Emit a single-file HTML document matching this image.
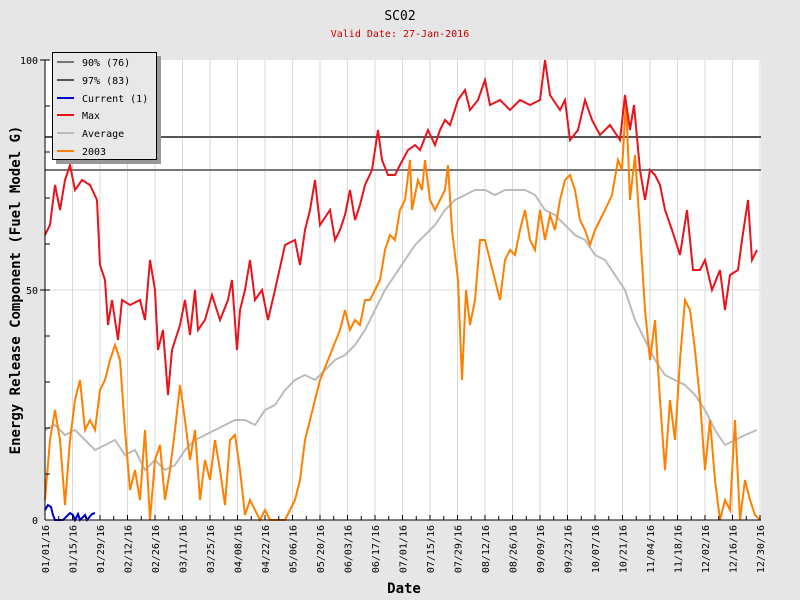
<!DOCTYPE html>
<html><head><meta charset="utf-8"><style>body{margin:0;background:#e6e6e6}svg{display:block}text{font-family:"DejaVu Sans Mono","Liberation Mono",monospace}</style></head><body>
<svg width="800" height="600" viewBox="0 0 800 600" xmlns="http://www.w3.org/2000/svg">
<rect width="800" height="600" fill="#e6e6e6"/>
<text x="400" y="20" font-size="13" text-anchor="middle">SC02</text>
<text x="400" y="37" font-size="10" fill="#cc0000" text-anchor="middle">Valid Date: 27-Jan-2016</text>
<rect x="45" y="60" width="716" height="460" fill="#fff"/>
<g stroke="#d8d8d8" stroke-width="1">
<line x1="72.5" y1="60" x2="72.5" y2="520"/><line x1="100" y1="60" x2="100" y2="520"/><line x1="127.5" y1="60" x2="127.5" y2="520"/><line x1="155" y1="60" x2="155" y2="520"/><line x1="182.5" y1="60" x2="182.5" y2="520"/><line x1="210" y1="60" x2="210" y2="520"/><line x1="237.5" y1="60" x2="237.5" y2="520"/><line x1="265" y1="60" x2="265" y2="520"/><line x1="292.5" y1="60" x2="292.5" y2="520"/><line x1="320" y1="60" x2="320" y2="520"/><line x1="347.5" y1="60" x2="347.5" y2="520"/><line x1="375" y1="60" x2="375" y2="520"/><line x1="402.5" y1="60" x2="402.5" y2="520"/><line x1="430" y1="60" x2="430" y2="520"/><line x1="457.5" y1="60" x2="457.5" y2="520"/><line x1="485" y1="60" x2="485" y2="520"/><line x1="512.5" y1="60" x2="512.5" y2="520"/><line x1="540" y1="60" x2="540" y2="520"/><line x1="567.5" y1="60" x2="567.5" y2="520"/><line x1="595" y1="60" x2="595" y2="520"/><line x1="622.5" y1="60" x2="622.5" y2="520"/><line x1="650" y1="60" x2="650" y2="520"/><line x1="677.5" y1="60" x2="677.5" y2="520"/><line x1="705" y1="60" x2="705" y2="520"/><line x1="732.5" y1="60" x2="732.5" y2="520"/><line x1="760" y1="60" x2="760" y2="520"/>
<line x1="45" y1="290" x2="761" y2="290"/>
</g>
<line x1="45" y1="137" x2="761" y2="137" stroke="#555" stroke-width="2"/>
<line x1="45" y1="170" x2="761" y2="170" stroke="#777" stroke-width="2"/>
<polyline fill="none" stroke="#bbb" stroke-width="2" points="45,430 55,425 65,435 75,430 85,440 95,450 105,445 115,440 125,455 135,450 145,470 155,460 165,470 175,465 185,450 195,440 205,435 215,430 225,425 235,420 245,420 255,425 265,410 275,405 285,390 295,380 305,375 315,380 325,370 335,360 345,355 355,345 365,330 375,310 385,290 395,275 405,260 415,245 425,235 435,225 445,210 455,200 465,195 475,190 485,190 495,195 505,190 515,190 525,190 535,195 545,210 555,215 565,225 575,235 585,240 595,255 605,260 615,275 625,290 635,320 645,340 655,360 665,375 675,380 685,385 695,395 705,410 715,430 725,445 735,440 745,435 757,430"/>
<polyline fill="none" stroke="#ff8000" stroke-width="2" points="45,500 50,440 55,410 60,440 65,505 70,440 75,400 80,380 85,430 90,420 95,430 100,390 105,380 110,360 115,345 120,360 125,430 130,490 135,470 140,500 145,430 150,520 155,460 160,445 165,500 170,470 175,430 180,385 185,420 190,460 195,430 200,500 205,460 210,480 215,440 220,470 225,505 230,440 235,435 240,470 245,515 250,500 255,510 260,520 265,510 270,520 285,520 295,500 300,480 305,440 310,420 315,400 320,380 330,355 340,330 345,310 350,330 355,320 360,325 365,300 370,300 375,290 380,280 385,250 390,235 395,240 400,210 405,200 410,160 412,210 418,180 422,190 425,160 430,200 435,210 440,200 445,190 448,165 452,230 458,280 462,380 466,290 470,325 475,300 480,240 485,240 490,260 495,280 500,300 505,260 510,250 515,255 520,230 525,210 530,240 535,250 540,210 545,240 550,215 555,230 560,200 565,180 570,175 575,190 580,220 585,230 590,245 595,230 600,220 605,210 612,195 618,160 622,170 626,100 630,200 635,155 640,230 645,310 650,360 655,320 660,400 665,470 670,400 675,440 680,360 685,300 690,310 695,350 700,400 705,470 710,420 715,480 720,520 725,500 730,510 735,420 740,520 745,480 750,500 755,515 760,520"/>
<polyline fill="none" stroke="#e8141c" stroke-width="2" points="45,235 50,225 55,185 60,210 65,180 70,165 75,190 82,180 90,185 97,200 100,265 105,280 108,325 112,300 118,340 122,300 130,305 140,300 145,320 150,260 155,290 158,350 163,330 168,395 172,350 180,325 185,300 190,335 195,290 198,330 205,320 212,295 220,320 228,300 232,280 237,350 240,310 245,290 250,260 255,300 262,290 268,320 275,290 285,245 295,240 300,265 305,230 310,210 315,180 320,225 330,210 335,240 340,230 345,215 350,190 355,220 360,205 365,185 372,170 378,130 382,160 388,175 395,175 400,165 408,150 415,145 420,150 428,130 435,145 440,130 445,120 450,125 458,100 465,90 470,110 478,100 485,80 490,105 500,100 510,110 520,100 530,105 540,100 545,60 550,95 560,110 565,100 570,140 578,130 585,100 592,120 600,135 610,125 620,140 625,95 630,130 634,105 640,170 645,200 650,170 655,175 660,185 665,210 672,230 680,255 687,210 693,270 700,270 705,260 712,290 720,270 725,310 730,275 738,270 742,240 748,200 752,260 757,250"/>
<polyline fill="none" stroke="#0000cc" stroke-width="2" points="45,510 48,505 51,507 53,515 55,520 63,520 67,516 70,513 73,515 75,520 78,514 80,520 85,515 87,520 92,514 95,513"/>
<g stroke="#000" stroke-width="1">
<line x1="45" y1="60" x2="45" y2="520"/><line x1="45" y1="520" x2="761" y2="520"/>
</g>
<g stroke="#000" stroke-width="1">
<line x1="40" y1="60" x2="50" y2="60"/><line x1="45" y1="106" x2="50" y2="106"/><line x1="45" y1="152" x2="50" y2="152"/><line x1="45" y1="198" x2="50" y2="198"/><line x1="45" y1="244" x2="50" y2="244"/><line x1="40" y1="290" x2="50" y2="290"/><line x1="45" y1="336" x2="50" y2="336"/><line x1="45" y1="382" x2="50" y2="382"/><line x1="45" y1="428" x2="50" y2="428"/><line x1="45" y1="474" x2="50" y2="474"/>
</g>
<text x="38" y="64" font-size="10" text-anchor="end">100</text>
<text x="38" y="294" font-size="10" text-anchor="end">50</text>
<text x="38" y="524" font-size="10" text-anchor="end">0</text>
<g font-size="10" text-anchor="end">
<text transform="translate(49,525) rotate(-90)">01/01/16</text><text transform="translate(76.5,525) rotate(-90)">01/15/16</text><text transform="translate(104,525) rotate(-90)">01/29/16</text><text transform="translate(131.5,525) rotate(-90)">02/12/16</text><text transform="translate(159,525) rotate(-90)">02/26/16</text><text transform="translate(186.5,525) rotate(-90)">03/11/16</text><text transform="translate(214,525) rotate(-90)">03/25/16</text><text transform="translate(241.5,525) rotate(-90)">04/08/16</text><text transform="translate(269,525) rotate(-90)">04/22/16</text><text transform="translate(296.5,525) rotate(-90)">05/06/16</text><text transform="translate(324,525) rotate(-90)">05/20/16</text><text transform="translate(351.5,525) rotate(-90)">06/03/16</text><text transform="translate(379,525) rotate(-90)">06/17/16</text><text transform="translate(406.5,525) rotate(-90)">07/01/16</text><text transform="translate(434,525) rotate(-90)">07/15/16</text><text transform="translate(461.5,525) rotate(-90)">07/29/16</text><text transform="translate(489,525) rotate(-90)">08/12/16</text><text transform="translate(516.5,525) rotate(-90)">08/26/16</text><text transform="translate(544,525) rotate(-90)">09/09/16</text><text transform="translate(571.5,525) rotate(-90)">09/23/16</text><text transform="translate(599,525) rotate(-90)">10/07/16</text><text transform="translate(626.5,525) rotate(-90)">10/21/16</text><text transform="translate(654,525) rotate(-90)">11/04/16</text><text transform="translate(681.5,525) rotate(-90)">11/18/16</text><text transform="translate(709,525) rotate(-90)">12/02/16</text><text transform="translate(736.5,525) rotate(-90)">12/16/16</text><text transform="translate(764,525) rotate(-90)">12/30/16</text>
</g>
<g stroke="#000">
<path d="M45,520v-5M58.75,520v-4M72.5,520v-5M86.25,520v-4M100,520v-5M113.75,520v-4M127.5,520v-5M141.25,520v-4M155,520v-5M168.75,520v-4M182.5,520v-5M196.25,520v-4M210,520v-5M223.75,520v-4M237.5,520v-5M251.25,520v-4M265,520v-5M278.75,520v-4M292.5,520v-5M306.25,520v-4M320,520v-5M333.75,520v-4M347.5,520v-5M361.25,520v-4M375,520v-5M388.75,520v-4M402.5,520v-5M416.25,520v-4M430,520v-5M443.75,520v-4M457.5,520v-5M471.25,520v-4M485,520v-5M498.75,520v-4M512.5,520v-5M526.25,520v-4M540,520v-5M553.75,520v-4M567.5,520v-5M581.25,520v-4M595,520v-5M608.75,520v-4M622.5,520v-5M636.25,520v-4M650,520v-5M663.75,520v-4M677.5,520v-5M691.25,520v-4M705,520v-5M718.75,520v-4M732.5,520v-5M746.25,520v-4M760,520v-5"/>
</g>
<text x="404" y="593" font-size="14" font-weight="bold" text-anchor="middle">Date</text>
<text transform="translate(20,290) rotate(-90)" font-size="14" font-weight="bold" text-anchor="middle">Energy Release Component (Fuel Model G)</text>
<rect x="56" y="56" width="105" height="108" fill="#999"/>
<rect x="52.5" y="52.5" width="104" height="107" fill="#e8e8e8" stroke="#000"/>
<g stroke-width="2">
<line x1="57" y1="62" x2="74" y2="62" stroke="#777"/>
<line x1="57" y1="80" x2="74" y2="80" stroke="#555"/>
<line x1="57" y1="98" x2="74" y2="98" stroke="#0000cc"/>
<line x1="57" y1="115" x2="74" y2="115" stroke="#e8141c"/>
<line x1="57" y1="133" x2="74" y2="133" stroke="#bbb"/>
<line x1="57" y1="151" x2="74" y2="151" stroke="#ff8000"/>
</g>
<g font-size="10">
<text x="82" y="66">90% (76)</text><text x="82" y="84">97% (83)</text><text x="82" y="102">Current (1)</text><text x="82" y="119">Max</text><text x="82" y="137">Average</text><text x="82" y="155">2003</text>
</g>
</svg>
</body></html>
